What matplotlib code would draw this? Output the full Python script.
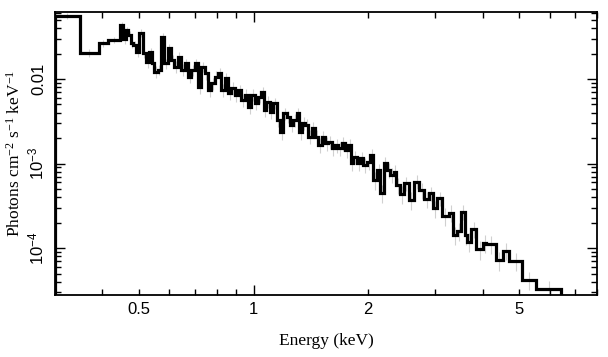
import numpy as np
import matplotlib
matplotlib.use("Agg")
import matplotlib.pyplot as plt
from matplotlib.ticker import LogLocator, NullFormatter

# Bin edges (keV)
edges = [0.3, 0.3486, 0.3905, 0.4124, 0.4445, 0.4535, 0.4610, 0.4675, 0.4752, 0.4819,
         0.4899, 0.5000, 0.5101, 0.5208, 0.5314, 0.5402, 0.5478, 0.5589, 0.5705, 0.5821,
         0.5939, 0.6063, 0.6186, 0.6311, 0.6443, 0.6574, 0.6707, 0.6847, 0.6986, 0.7127,
         0.7276, 0.7423, 0.7573, 0.7731, 0.7888, 0.8048, 0.8216, 0.8382, 0.8553, 0.8730,
         0.8908, 0.9090, 0.9279, 0.9468, 0.9659, 0.9861, 1.0061, 1.0265, 1.0479, 1.0627,
         1.0803, 1.1022, 1.1245, 1.1480, 1.1713, 1.1951, 1.2201, 1.2448, 1.2700, 1.2965,
         1.3172, 1.3414, 1.3636, 1.3913, 1.4203, 1.4491, 1.4785, 1.5094, 1.5399, 1.5712,
         1.6040, 1.6366, 1.6698, 1.7047, 1.7393, 1.7713, 1.8040, 1.8294, 1.8676, 1.9055,
         1.9441, 1.9847, 2.0245, 2.0656, 2.1086, 2.1514, 2.1950, 2.2409, 2.2863, 2.3327,
         2.3713, 2.4297, 2.4789, 2.5554, 2.6456, 2.7273, 2.7995, 2.8982, 2.9569, 3.0372,
         3.1310, 3.2592, 3.3394, 3.4298, 3.5142, 3.5855, 3.6448, 3.7345, 3.8498, 4.0074,
         4.0911, 4.3291, 4.5254, 4.6933, 5.0923, 5.5444, 6.4275]

# Flux (photons cm^-2 s^-1 keV^-1)
flux = [0.0555, 0.0205, 0.0264, 0.0289, 0.0434, 0.0297, 0.0379, 0.0331, 0.0266, 0.0252,
        0.0208, 0.0350, 0.0203, 0.0160, 0.0210, 0.0153, 0.0122, 0.0128, 0.0316, 0.0153,
        0.0231, 0.0168, 0.0140, 0.0183, 0.0128, 0.0153, 0.0107, 0.0128, 0.0153, 0.0081,
        0.0140, 0.0117, 0.0074, 0.0089, 0.0107, 0.0117, 0.0074, 0.0102, 0.0068, 0.0078,
        0.0065, 0.0074, 0.00565, 0.0065, 0.0047, 0.0065, 0.0052, 0.0062, 0.0071, 0.0043,
        0.0054, 0.0041, 0.0052, 0.00328, 0.00238, 0.00393, 0.00359, 0.00286, 0.00328, 0.00393,
        0.00238, 0.00300, 0.00286, 0.00208, 0.00262, 0.00208, 0.00166, 0.00208, 0.00174, 0.00182,
        0.00152, 0.00166, 0.00152, 0.00174, 0.00145, 0.00166, 0.00101, 0.00121, 0.00101, 0.00116,
        0.000964, 0.00105, 0.00127, 0.000641, 0.000841, 0.000446, 0.00101, 0.000841, 0.000734, 0.000803,
        0.000559, 0.000438, 0.000586, 0.000372, 0.000612, 0.000488, 0.000379, 0.000446, 0.000297, 0.000390,
        0.000241, 0.000263, 0.000144, 0.000161, 0.000271, 0.000144, 0.000120, 0.000168, 0.0000973, 0.000116,
        0.000112, 0.0000727, 0.0000937, 0.0000704, 0.0000422, 0.0000331]

# Relative 1-sigma errors
rel_err = [0.08, 0.11, 0.09, 0.08, 0.10, 0.12, 0.10, 0.11, 0.12, 0.13,
           0.13, 0.10, 0.13, 0.15, 0.12, 0.14, 0.16, 0.14, 0.10, 0.14,
           0.12, 0.14, 0.16, 0.13, 0.16, 0.14, 0.17, 0.15, 0.13, 0.18,
           0.14, 0.16, 0.18, 0.16, 0.15, 0.14, 0.18, 0.16, 0.18, 0.17,
           0.17, 0.16, 0.18, 0.16, 0.18, 0.16, 0.17, 0.16, 0.14, 0.18,
           0.16, 0.18, 0.16, 0.18, 0.20, 0.16, 0.17, 0.18, 0.17, 0.16,
           0.20, 0.17, 0.18, 0.19, 0.17, 0.19, 0.20, 0.18, 0.19, 0.18,
           0.20, 0.19, 0.20, 0.18, 0.19, 0.18, 0.20, 0.18, 0.20, 0.18,
           0.20, 0.19, 0.17, 0.23, 0.19, 0.24, 0.18, 0.20, 0.20, 0.19,
           0.22, 0.23, 0.20, 0.23, 0.19, 0.21, 0.22, 0.20, 0.23, 0.20,
           0.23, 0.22, 0.25, 0.24, 0.20, 0.25, 0.25, 0.22, 0.25, 0.24,
           0.23, 0.25, 0.23, 0.24, 0.25, 0.24]

x_ticks = [0.5, 1, 2, 5]
x_ticklabels = ["0.5", "1", "2", "5"]
y_ticks = [1e-4, 1e-3, 1e-2]
y_ticklabels = [r"$10^{-4}$", r"$10^{-3}$", "0.01"]

plt.rcParams["mathtext.default"] = "regular"

fig = plt.figure(figsize=(6.08, 3.57), dpi=100)
ax = fig.add_axes([55 / 608, 1 - 295 / 357, (597 - 55) / 608, (295 - 12) / 357])

e = np.array(edges)
f = np.array(flux)
r = np.array(rel_err)
centers = np.sqrt(e[:-1] * e[1:])

ax.vlines(centers, f * (1 - r), f * (1 + r), color="#d0d0d0", lw=0.8, zorder=1)
ax.stairs(f, e, color="black", lw=2.3, zorder=2)

ax.set_xscale("log")
ax.set_yscale("log")
ax.set_xlim(0.3, 8.0)
ax.set_ylim(2.8e-5, 0.0619)

ax.xaxis.set_major_locator(LogLocator(base=10, subs=(1.0,)))
ax.xaxis.set_minor_locator(LogLocator(base=10, subs=np.arange(2, 10)))
ax.yaxis.set_major_locator(LogLocator(base=10, subs=(1.0,)))
ax.yaxis.set_minor_locator(LogLocator(base=10, subs=np.arange(2, 10)))
ax.xaxis.set_major_formatter(NullFormatter())
ax.xaxis.set_minor_formatter(NullFormatter())
ax.yaxis.set_major_formatter(NullFormatter())
ax.yaxis.set_minor_formatter(NullFormatter())

ax.tick_params(which="both", direction="in", top=True, right=True, width=1.0, color="black")
ax.tick_params(which="major", length=7)
ax.tick_params(which="minor", length=4)
for sp in ax.spines.values():
    sp.set_linewidth(1.3)

sans = "Liberation Sans"
serif = "Liberation Serif"
for xv, lab in zip(x_ticks, x_ticklabels):
    ax.text(xv, -0.025, lab, transform=ax.get_xaxis_transform(), ha="center", va="top",
            fontsize=12, family=sans)
for yv, lab in zip(y_ticks, y_ticklabels):
    ax.text(-0.016, yv, lab, transform=ax.get_yaxis_transform(), ha="right", va="center",
            rotation=90, fontsize=12, family=sans)

ax.set_xlabel("Energy (keV)", fontsize=12.5, family=serif)
ax.xaxis.set_label_coords(0.5, -0.135)
ax.set_ylabel(r"Photons cm$^{-2}$ s$^{-1}$ keV$^{-1}$", fontsize=12.5, family=serif)
ax.yaxis.set_label_coords(-0.058, 0.5)

fig.savefig("out.png", dpi=100)
